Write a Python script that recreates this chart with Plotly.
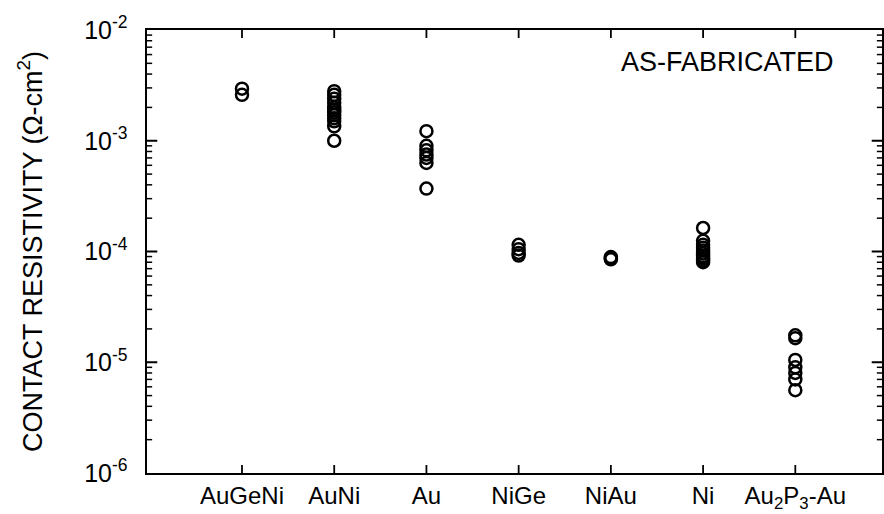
import plotly.graph_objects as go

categories = ["AuGeNi", "AuNi", "Au", "NiGe", "NiAu", "Ni", "Au<sub>2</sub>P<sub>3</sub>-Au"]

augeni = [2.95e-3, 2.6e-3]
auni = [2.8e-3, 2.6e-3, 2.4e-3, 2.2e-3, 2.0e-3, 1.9e-3, 1.8e-3, 1.7e-3, 1.6e-3, 1.5e-3, 1.35e-3, 1.0e-3]
au = [1.22e-3, 9.0e-4, 8.2e-4, 7.5e-4, 7.0e-4, 6.3e-4, 3.7e-4]
nige = [1.15e-4, 1.05e-4, 9.7e-5, 9.2e-5]
niau = [8.9e-5, 8.7e-5, 8.5e-5]
ni = [1.63e-4, 1.25e-4, 1.15e-4, 1.08e-4, 1.02e-4, 9.6e-5, 9.1e-5, 8.7e-5, 8.3e-5, 8.0e-5]
au2p3 = [1.75e-5, 1.65e-5, 1.05e-5, 9.0e-6, 8.0e-6, 7.0e-6, 5.6e-6]

series = [augeni, auni, au, nige, niau, ni, au2p3]

ytick_vals = [1e-6, 1e-5, 1e-4, 1e-3, 1e-2]
ytick_text = ["10<sup>-6</sup>\u2002", "10<sup>-5</sup>\u2002", "10<sup>-4</sup>\u2002", "10<sup>-3</sup>\u2002", "10<sup>-2</sup>\u2002"]
minor_vals = [m * d for d in [1e-6, 1e-5, 1e-4, 1e-3] for m in range(2, 10)]

fig = go.Figure()
for cat, vals in zip(categories, series):
    fig.add_trace(go.Scatter(
        x=[cat] * len(vals), y=vals, mode="markers",
        marker=dict(symbol="circle-open", size=12, color="black", line=dict(width=2.5, color="black")),
        showlegend=False,
    ))

# inside tick marks drawn as shapes anchored to the axes
tick_shapes = []
for v in ytick_vals[1:-1]:
    for x0, x1 in [(0, 0.014), (1, 0.986)]:
        tick_shapes.append(dict(type="line", xref="paper", yref="y", x0=x0, x1=x1, y0=v, y1=v,
                                line=dict(color="black", width=2)))
for v in minor_vals:
    for x0, x1 in [(0, 0.007), (1, 0.993)]:
        tick_shapes.append(dict(type="line", xref="paper", yref="y", x0=x0, x1=x1, y0=v, y1=v,
                                line=dict(color="black", width=1.5)))
for i, _ in enumerate(categories):
    tick_shapes.append(dict(type="line", xref="x", yref="paper", x0=i, x1=i, y0=0, y1=0.018,
                            line=dict(color="black", width=1.8)))
    tick_shapes.append(dict(type="line", xref="x", yref="paper", x0=i, x1=i, y0=1, y1=0.982,
                            line=dict(color="black", width=1.8)))

font = dict(family="Arial, Liberation Sans, sans-serif", color="black")

fig.update_layout(
    template="none",
    width=884, height=514,
    margin=dict(l=147, r=2, t=30, b=41),
    plot_bgcolor="white", paper_bgcolor="white",
    font=dict(**font, size=22),
    shapes=tick_shapes,
    annotations=[dict(
        text="AS-FABRICATED", x=0.79, y=0.928, xref="paper", yref="paper",
        showarrow=False, font=dict(**font, size=27), xanchor="center", yanchor="middle",
    )],
)

fig.update_xaxes(
    type="category", categoryorder="array", categoryarray=categories,
    range=[-1.03, 6.94],
    showline=True, linecolor="black", linewidth=2, mirror=True,
    ticks="", showgrid=False, zeroline=False,
    tickfont=dict(**font, size=24),
)

fig.update_yaxes(
    type="log", range=[-6, -2],
    tickmode="array", tickvals=ytick_vals, ticktext=ytick_text,
    showline=True, linecolor="black", linewidth=2, mirror=True,
    ticks="", showgrid=False, zeroline=False,
    tickfont=dict(**font, size=25),
    title=dict(text="CONTACT RESISTIVITY (\u03a9-cm<sup>2</sup>)", font=dict(**font, size=27), standoff=34),
)

fig.write_html("out.html")
